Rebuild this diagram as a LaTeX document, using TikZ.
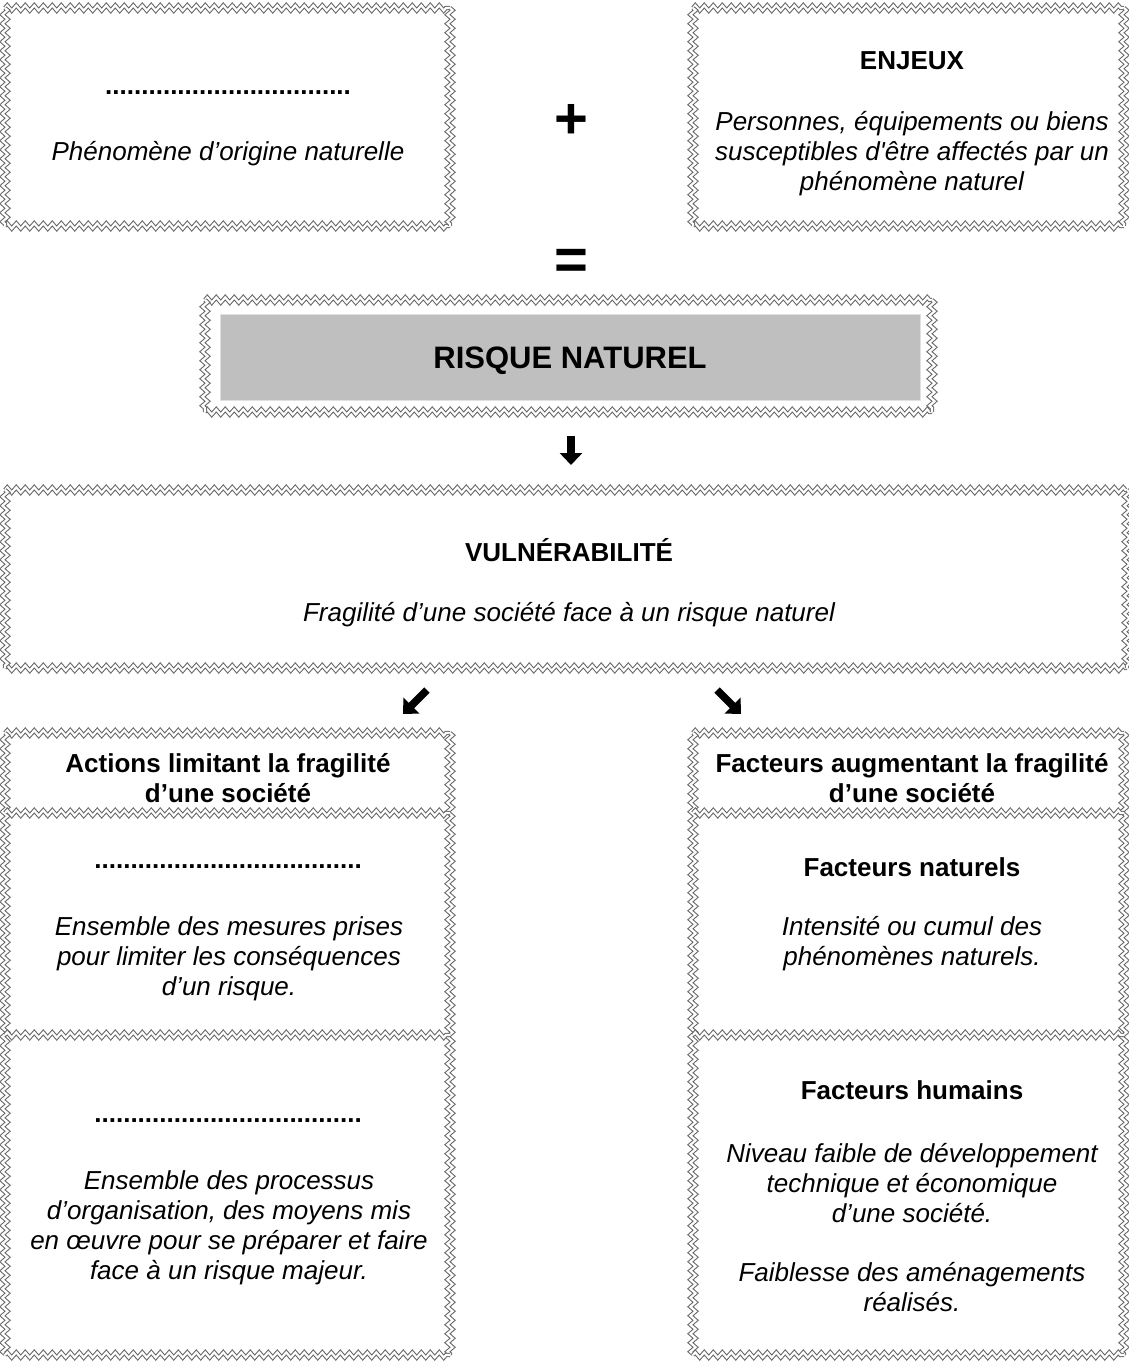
\documentclass[tikz,border=0pt]{standalone}
\usepackage{fontspec}
\setmainfont{Liberation Sans}[Ligatures=TeXOff]
\usetikzlibrary{decorations.pathmorphing,arrows.meta}
\newcommand\zzbox[1]{%
 \draw[zz] (#1.north west) -- (#1.north east);
 \draw[zz] (#1.south west) -- (#1.south east);
 \draw[zz] (#1.north west) -- (#1.south west);
 \draw[zz] (#1.north east) -- (#1.south east);}
\begin{document}
\begin{tikzpicture}[x=1pt,y=-1pt,
 zz/.style={draw=black!60, line width=1.05pt, double=white, double distance=2.2pt, decorate, decoration={zigzag,segment length=9pt,amplitude=2.6pt}},
 boxn/.style={minimum width=#1, inner sep=0pt, outer sep=0pt},
 txt/.style={align=center, font=\fontsize{26}{30}\selectfont\itshape, inner sep=0pt},
 ttl/.style={align=center, font=\fontsize{26}{30}\selectfont\bfseries, inner sep=0pt},
 dots/.style={font=\fontsize{26}{30}\selectfont\bfseries, inner sep=0pt},
 sym/.style={font=\fontsize{58}{58}\selectfont\bfseries, inner sep=0pt},
 blk/.style={line width=7.5pt, -{Triangle[width=22pt,length=12pt]}}]
\useasboundingbox (0,0) rectangle (1128,1364);

% top boxes
\node[boxn=445pt, minimum height=218pt] (b1) at (227.5,117) {};
\zzbox{b1}
\node[dots] (b1d) at (228,93) {..................................};
\node[txt] (b1t) at (228,154) {Phénomène d’origine naturelle};

\node[boxn=431pt, minimum height=218pt] (b2) at (908.5,117) {};
\zzbox{b2}
\node[ttl] (b2h) at (912,61) {ENJEUX};
\node[txt] (b2t) at (912,154) {Personnes, équipements ou biens\\susceptibles d'être affectés par un\\phénomène naturel};

\node[sym] (plus) at (571,121) {+};
\node[sym] (eq) at (571,264) {=};

% risque naturel
\node[boxn=700pt, minimum height=86pt, fill=black!25, draw=black!12, line width=0.5pt] (rn) at (570,357) {};
\node[boxn=727pt, minimum height=112pt] (rnout) at (568.5,356) {};
\zzbox{rnout}
\node[font=\fontsize{31}{30}\selectfont\bfseries, inner sep=0pt] (rnt) at (570,361) {RISQUE NATUREL};

% vulnerabilite
\node[boxn=1122pt, minimum height=178pt] (vu) at (566,579) {};
\zzbox{vu}
\node[ttl] (vuh) at (569,550) {VULNÉRABILITÉ};
\node[txt] (vut) at (569,615) {Fragilité d’une société face à un risque naturel};

% arrows
\coordinate (a0s) at (571,436);
\coordinate (a0e) at (571,465);
\draw[blk] (a0s) -- (a0e);
\coordinate (a1s) at (427,690);
\coordinate (a1e) at (403,714);
\draw[blk] (a1s) -- (a1e);
\coordinate (a2s) at (717,690);
\coordinate (a2e) at (741,714);
\draw[blk] (a2s) -- (a2e);

% left column
\node[boxn=445pt, minimum height=80pt] (hL) at (227.5,773) {};
\node[boxn=445pt, minimum height=222pt] (mL) at (227.5,924) {};
\node[boxn=445pt, minimum height=320pt] (bL) at (227.5,1195) {};
\draw[zz] (hL.north west) -- (hL.north east);
\draw[zz] (hL.north west) -- (bL.south west);
\draw[zz] (hL.north east) -- (bL.south east);
\draw[zz] (bL.south west) -- (bL.south east);
\draw[zz] (hL.south west) -- (hL.south east);
\draw[zz] (mL.south west) -- (mL.south east);
\node[ttl] (hLt) at (228,778) {Actions limitant la fragilité\\d’une société};
\node[dots] (mLd) at (228,867) {.....................................};
\node[txt] (mLt) at (229,959) {Ensemble des mesures prises\\pour limiter les conséquences\\d’un risque.};
\node[dots] (bLd) at (228,1121) {.....................................};
\node[txt] (bLt) at (229,1228) {Ensemble des processus\\d’organisation, des moyens mis\\en œuvre pour se préparer et faire\\face à un risque majeur.};

% right column
\node[boxn=431pt, minimum height=80pt] (hR) at (908.5,773) {};
\node[boxn=431pt, minimum height=222pt] (mR) at (908.5,924) {};
\node[boxn=431pt, minimum height=320pt] (bR) at (908.5,1195) {};
\draw[zz] (hR.north west) -- (hR.north east);
\draw[zz] (hR.north west) -- (bR.south west);
\draw[zz] (hR.north east) -- (bR.south east);
\draw[zz] (bR.south west) -- (bR.south east);
\draw[zz] (hR.south west) -- (hR.south east);
\draw[zz] (mR.south west) -- (mR.south east);
\node[ttl] (hRt) at (912,778) {Facteurs augmentant la fragilité\\d’une société};
\node[ttl] (mRh) at (912,867) {Facteurs naturels};
\node[txt] (mRt) at (912,944) {Intensité ou cumul des\\phénomènes naturels.};
\node[ttl] (bRh) at (912,1090) {Facteurs humains};
\node[txt] (bRt) at (912,1183) {Niveau faible de développement\\technique et économique\\d’une société.};
\node[txt] (bRt2) at (912,1287) {Faiblesse des aménagements\\réalisés.};
\end{tikzpicture}
\end{document}
